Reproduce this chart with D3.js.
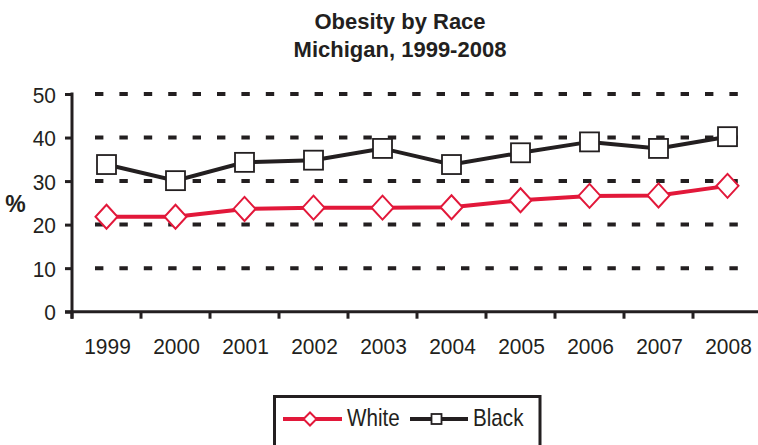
<!DOCTYPE html>
<html>
<head>
<meta charset="utf-8">
<script src="https://cdn.jsdelivr.net/npm/d3@7/dist/d3.min.js"></script>
<style>
  html, body { margin: 0; padding: 0; background: #fff; }
  svg { display: block; font-family: "Liberation Sans", Arial, Helvetica, sans-serif; }
</style>
</head>
<body>
<svg id="chart" width="758" height="445"></svg>
<script>
// Obesity prevalence (%) by race, Michigan BRFS 1999-2008
const years = ["1999", "2000", "2001", "2002", "2003", "2004", "2005", "2006", "2007", "2008"];
const white = [21.8, 21.8, 23.6, 23.9, 23.9, 24.0, 25.6, 26.6, 26.7, 28.9];
const black = [33.8, 30.1, 34.3, 34.8, 37.5, 33.8, 36.5, 39.0, 37.5, 40.2];
const yTicks = [0, 10, 20, 30, 40, 50];
const gridTicks = [10, 20, 30, 40, 50];
const titleLines = ["Obesity by Race", "Michigan, 1999-2008"];

const INK = "#231f20";
const RED = "#e2183a";

const svg = d3.select("#chart");

const x = d3.scaleBand().domain(years).range([72, 762]).paddingInner(0).paddingOuter(0);
const y = d3.scaleLinear().domain([0, 50]).range([311.7, 94]);
const cx = d => x(d) + x.bandwidth() / 2;

// Slightly narrowed lettering, as in the printed chart
const squeeze = (sel, sx) => sel.attr("transform", function () {
  const px = +d3.select(this).attr("x") || 0;
  return `translate(${px * (1 - sx)},0) scale(${sx},1)`;
});

// Title
svg.append("g").selectAll("text").data(titleLines).join("text")
  .attr("x", 400).attr("y", (d, i) => 28.5 + i * 28.5)
  .attr("text-anchor", "middle")
  .attr("font-size", 22).attr("font-weight", "bold").attr("fill", INK)
  .text(d => d);

// Dotted gridlines
svg.append("g").selectAll("line").data(gridTicks).join("line")
  .attr("x1", 95).attr("x2", 748)
  .attr("y1", d => y(d)).attr("y2", d => y(d))
  .attr("stroke", INK).attr("stroke-width", 4)
  .attr("stroke-dasharray", "8.4 16");

// Y axis
const yAxis = svg.append("g").attr("transform", "translate(72,0)")
  .call(d3.axisLeft(y).tickValues(yTicks).tickSize(7).tickPadding(9).tickFormat(d3.format("d")));
yAxis.select(".domain").remove();
yAxis.selectAll(".tick line").attr("stroke", INK).attr("stroke-width", 3);
yAxis.selectAll(".tick text").attr("font-size", 22.5).attr("fill", INK)
  .attr("font-family", "Liberation Sans, Arial, sans-serif")
  .attr("x", -16).attr("dy", "0.36em");
squeeze(yAxis.selectAll(".tick text"), 0.93);
svg.append("line").attr("x1", 72).attr("x2", 72).attr("y1", y(50) - 1.5).attr("y2", y(0) + 7)
  .attr("stroke", INK).attr("stroke-width", 3);

// X axis: labels centred in each band, ticks on band edges
const xAxis = svg.append("g").attr("transform", `translate(0,${y(0)})`)
  .call(d3.axisBottom(x).tickSize(0).tickPadding(26));
xAxis.select(".domain").remove();
xAxis.selectAll(".tick text").attr("font-size", 22.5).attr("fill", INK)
  .attr("font-family", "Liberation Sans, Arial, sans-serif").attr("x", 1);
squeeze(xAxis.selectAll(".tick text"), 0.93);
svg.append("g").selectAll("line").data(years).join("line")
  .attr("x1", d => x(d)).attr("x2", d => x(d))
  .attr("y1", y(0)).attr("y2", y(0) + 7)
  .attr("stroke", INK).attr("stroke-width", 3);
svg.append("line").attr("x1", 65).attr("x2", 758).attr("y1", y(0)).attr("y2", y(0))
  .attr("stroke", INK).attr("stroke-width", 3);

// "%" axis title
svg.append("text").attr("x", 15.5).attr("y", 212)
  .attr("text-anchor", "middle").attr("font-size", 23).attr("font-weight", "bold")
  .attr("fill", INK).text("%");

const line = d3.line().x(d => cx(d.year)).y(d => y(d.value));
const toPts = vals => years.map((yr, i) => ({ year: yr, value: vals[i] }));
const diamond = (sx, sy) => `M0,${-sy}L${sx},0L0,${sy}L${-sx},0Z`;

// Black series
svg.append("path").datum(toPts(black)).attr("d", line)
  .attr("fill", "none").attr("stroke", INK).attr("stroke-width", 4);
svg.append("g").selectAll("rect").data(toPts(black)).join("rect")
  .attr("x", d => cx(d.year) - 9.5).attr("y", d => y(d.value) - 9.5)
  .attr("width", 19).attr("height", 19)
  .attr("fill", "#fff").attr("stroke", INK).attr("stroke-width", 1.8);

// White series
svg.append("path").datum(toPts(white)).attr("d", line)
  .attr("fill", "none").attr("stroke", RED).attr("stroke-width", 4);
svg.append("g").selectAll("path").data(toPts(white)).join("path")
  .attr("transform", d => `translate(${cx(d.year)},${y(d.value)})`)
  .attr("d", diamond(11, 12))
  .attr("fill", "#fff").attr("stroke", RED).attr("stroke-width", 2);

// Legend
const lg = svg.append("g");
lg.append("rect").attr("x", 274.5).attr("y", 396.5).attr("width", 265.5).attr("height", 60)
  .attr("fill", "#fff").attr("stroke", INK).attr("stroke-width", 3);
lg.append("line").attr("x1", 283).attr("x2", 342).attr("y1", 419).attr("y2", 419)
  .attr("stroke", RED).attr("stroke-width", 4);
lg.append("path").attr("transform", "translate(310,419)").attr("d", diamond(6.5, 6.5))
  .attr("fill", "#fff").attr("stroke", RED).attr("stroke-width", 2);
lg.append("line").attr("x1", 410).attr("x2", 468).attr("y1", 419).attr("y2", 419)
  .attr("stroke", INK).attr("stroke-width", 4);
lg.append("rect").attr("x", 431.5).attr("y", 414).attr("width", 10).attr("height", 10)
  .attr("fill", "#fff").attr("stroke", INK).attr("stroke-width", 1.8);
const lt = lg.append("g").selectAll("text").data([["White", 347], ["Black", 473]]).join("text")
  .attr("x", d => d[1]).attr("y", 426).attr("font-size", 24).attr("fill", INK)
  .text(d => d[0]);
squeeze(lt, 0.86);
</script>
</body>
</html>
